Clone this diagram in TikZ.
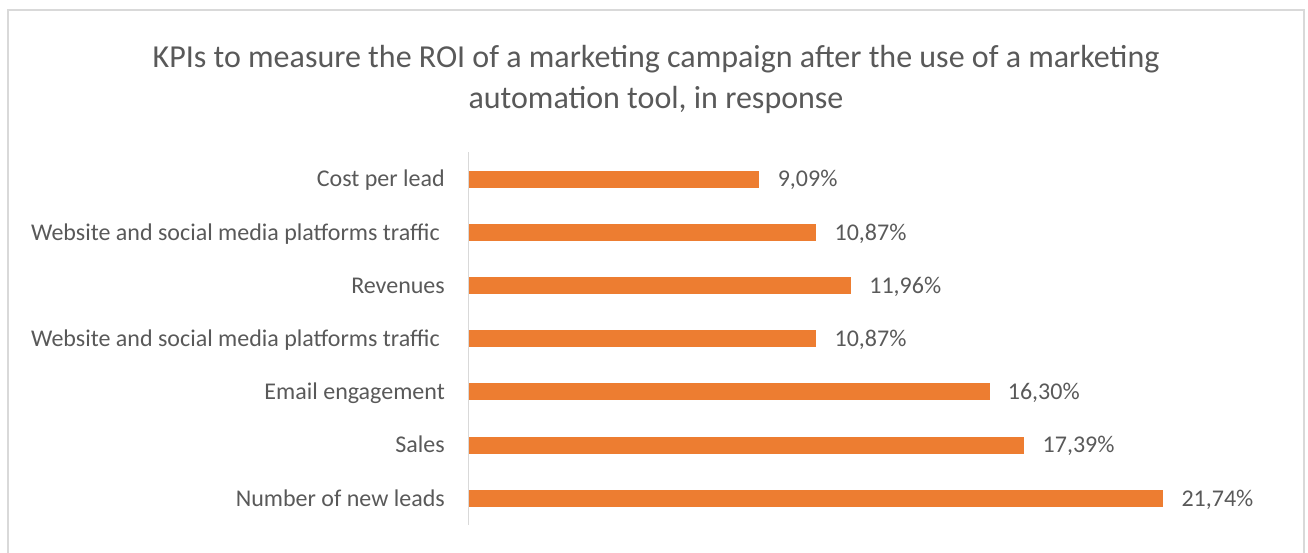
\documentclass[tikz,border=0pt]{standalone}
\usepackage{fontspec}
\setmainfont{Carlito}
\usetikzlibrary{positioning}
\definecolor{barorange}{HTML}{ED7D31}
\definecolor{txtgray}{HTML}{595959}
\definecolor{framegray}{HTML}{D9D9D9}

\begin{document}
\begin{tikzpicture}[x=1pt,y=-1pt,
  catlabel/.style={anchor=east,text=txtgray,inner sep=0pt,
    font=\fontsize{24}{28}\selectfont,text height=19.2pt,text depth=3.6pt},
  vallabel/.style={anchor=west,text=txtgray,inner sep=0pt,
    font=\fontsize{24}{28}\selectfont,text height=19.2pt,text depth=3.6pt},
  bar/.style={fill=barorange,draw=none,inner sep=0pt,anchor=west,minimum height=17pt}]
\useasboundingbox (0,0) rectangle (1308,552);
\clip (0,0) rectangle (1308,552);
\draw[framegray,line width=1.5pt] (8,10) rectangle (1304,580);

\node[text=txtgray,font=\fontsize{32}{41}\selectfont,align=center] (title) at (656,79)
  {KPIs to measure the ROI of a marketing campaign after the use of a marketing\\automation tool, in response};

\coordinate (axtop) at (468,152);
\coordinate (axbot) at (468,525);
\draw[framegray,line width=1pt] (axtop) -- (axbot);

\foreach \i/\lab/\v/\txt in {
  1/Cost per lead/9.09/{9,09\%},
  2/{Website and social media platforms traffic\hspace*{5pt}}/10.87/{10,87\%},
  3/Revenues/11.96/{11,96\%},
  4/{Website and social media platforms traffic\hspace*{5pt}}/10.87/{10,87\%},
  5/Email engagement/16.30/{16,30\%},
  6/Sales/17.39/{17,39\%},
  7/Number of new leads/21.74/{21,74\%}}
{
  \pgfmathsetmacro{\ypos}{179+53.2*(\i-1)}
  \pgfmathsetmacro{\blen}{31.92*\v}
  \node[catlabel] (cat\i) at (445,\ypos) {\lab};
  \node[bar,minimum width=\blen pt] (bar\i) at (469,\ypos) {};
  \node[vallabel,right=18pt of bar\i] (val\i) {\txt};
}
\end{tikzpicture}
\end{document}
